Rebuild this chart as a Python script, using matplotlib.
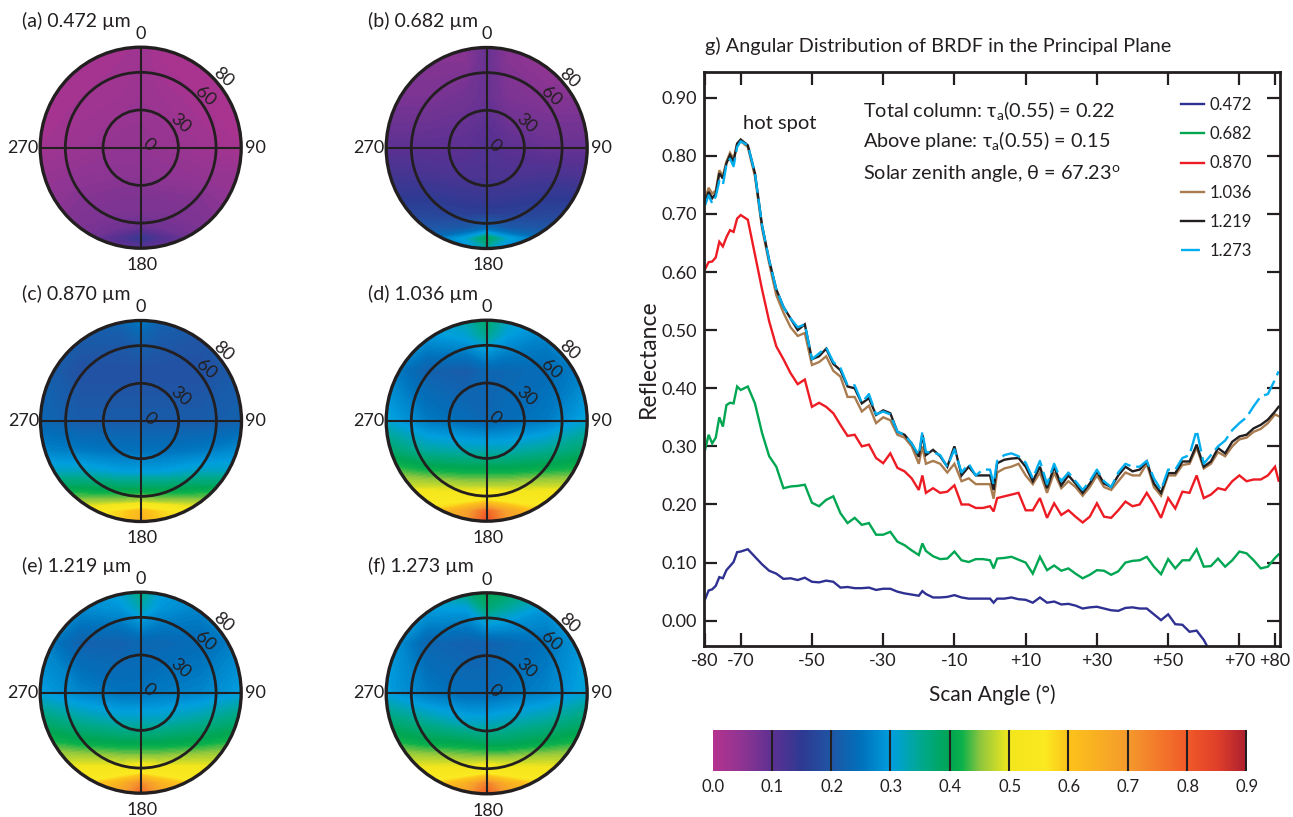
"""BRDF polar panels (a-f), principal plane reflectance (g) and colour scale."""

import matplotlib

matplotlib.use("Agg")
import matplotlib.pyplot as plt
import numpy as np
from matplotlib.colors import LinearSegmentedColormap
from matplotlib.patches import Circle

W, H = 1293, 817
plt.rcParams["font.family"] = ["Lato", "DejaVu Sans"]
plt.rcParams["mathtext.fontset"] = "custom"
plt.rcParams["mathtext.rm"] = "Lato"
plt.rcParams["mathtext.it"] = "Lato"
plt.rcParams["mathtext.bf"] = "Lato:bold"

INK = "#231f20"

# ---- panel g: reflectance against scan angle
ANGLES = [-80, -79, -78, -77, -76, -75, -74, -73, -72, -71, -70, -68, -66, -64, -62,
          -60, -58, -56, -54, -52, -50, -48, -46, -44, -42,
          -40, -38, -36, -34, -32, -30, -28, -26, -24, -22,
          -20, -19, -18, -16, -14, -12, -10, -8, -6, -4, -2,
          0, 1, 2, 4, 6, 8, 10, 12, 14, 16, 18,
          20, 22, 24, 26, 28, 30, 32, 34, 36, 38,
          40, 42, 44, 46, 48, 50, 52, 54, 56, 58,
          60, 62, 64, 66, 68, 70, 72, 74, 76, 78,
          80, 81]

R472 = [.037, .052, .054, .060, .075, .073, .087, .094, .101, .118, .119, .123, .110, .097, .086,
        .081, .072, .073, .070, .074, .067, .066, .069, .067, .057,
        .058, .056, .056, .057, .053, .055, .055, .050, .047, .045,
        .043, .051, .046, .040, .040, .041, .044, .040, .038, .038, .038,
        .038, .031, .038, .038, .040, .037, .036, .031, .040, .031, .033,
        .028, .029, .026, .021, .023, .024, .021, .018, .017, .022,
        .023, .021, .021, .011, .001, .011, -.006, -.007, -.019, -.017,
        -.033, -.056]
R682 = [.294, .320, .305, .315, .350, .334, .371, .375, .374, .403, .397, .403, .374, .323, .283,
        .265, .228, .231, .232, .234, .203, .197, .208, .214, .185,
        .168, .177, .165, .168, .148, .148, .153, .136, .130, .121,
        .113, .133, .120, .111, .106, .107, .119, .104, .101, .106, .106,
        .104, .090, .107, .108, .110, .105, .100, .081, .110, .087, .095,
        .086, .090, .081, .073, .079, .087, .086, .079, .085, .100,
        .103, .104, .110, .093, .080, .106, .090, .104, .104, .123,
        .093, .094, .107, .093, .104, .119, .116, .104, .090, .093,
        .108, .114]
R870 = [.605, .617, .618, .625, .652, .644, .660, .672, .669, .692, .698, .690, .630, .570, .515,
        .472, .450, .426, .407, .415, .368, .375, .368, .357, .337,
        .318, .320, .300, .303, .280, .271, .288, .263, .257, .245,
        .225, .250, .220, .228, .220, .222, .233, .200, .200, .194, .194,
        .197, .188, .211, .214, .217, .220, .190, .190, .211, .177, .202,
        .182, .190, .179, .169, .179, .202, .179, .177, .190, .205,
        .197, .200, .220, .200, .177, .211, .193, .222, .220, .250,
        .211, .217, .228, .225, .240, .250, .240, .243, .243, .250,
        .265, .241]
R1036 = [.725, .745, .735, .740, .775, .765, .790, .805, .795, .820, .825, .815, .765, .675, .615,
         .560, .530, .505, .490, .495, .440, .445, .455, .430, .420,
         .385, .385, .360, .370, .340, .350, .345, .320, .315, .300,
         .270, .300, .270, .275, .270, .255, .270, .240, .245, .235, .235,
         .235, .210, .255, .262, .265, .270, .250, .235, .255, .220, .255,
         .228, .240, .230, .215, .230, .250, .230, .225, .240, .255,
         .250, .250, .270, .230, .215, .250, .250, .268, .270, .298,
         .262, .270, .290, .283, .300, .312, .315, .325, .330, .340,
         .355, .352]
R1219 = [.720, .738, .727, .735, .770, .761, .787, .801, .790, .821, .828, .818, .770, .680, .620,
         .570, .540, .520, .500, .510, .450, .455, .468, .442, .431,
         .403, .400, .374, .383, .354, .362, .357, .325, .320, .305,
         .282, .320, .285, .294, .283, .265, .300, .250, .265, .250, .250,
         .250, .225, .271, .277, .279, .280, .265, .240, .265, .228, .265,
         .233, .250, .236, .220, .236, .257, .236, .230, .250, .265,
         .257, .260, .274, .236, .220, .254, .254, .274, .274, .303,
         .265, .274, .297, .288, .308, .317, .320, .331, .337, .346,
         .360, .368]
R1273 = [.715, .732, .718, .730, .757, .750, .785, .795, .782, .815, .825, .818, .770, .680, .620,
         .570, .540, .520, .505, .510, .450, .460, .470, .445, .435,
         .405, .405, .375, .390, .355, .360, .355, .325, .320, .305,
         .285, .325, .290, .290, .285, .265, .295, .255, .270, .250, .260,
         .260, .235, .275, .285, .288, .283, .272, .245, .275, .235, .270,
         .240, .255, .240, .225, .240, .260, .240, .230, .255, .270,
         .265, .265, .275, .245, .225, .260, .260, .280, .285, .328,
         .270, .285, .300, .310, .328, .340, .350, .369, .386, .390,
         .415, .429]

SERIES = [("0.472", R472, "#2e3192"), ("0.682", R682, "#00a651"),
          ("0.870", R870, "#ed1c24"), ("1.036", R1036, "#a97c50"),
          ("1.219", R1219, "#231f20"), ("1.273", R1273, "#00aeef")]
X_TICKS = [-80, -70, -50, -30, -10, 10, 30, 50, 70, 80]
X_LABELS = ["-80", "-70", "-50", "-30", "-10", "+10", "+30", "+50", "+70", "+80"]
Y_TICKS = [0.0, 0.1, 0.2, 0.3, 0.4, 0.5, 0.6, 0.7, 0.8, 0.9]

# ---- panels a-f: reflectance on a coarse grid (zenith degrees across the disc)
GRID_X = [-80, -48, -16, 0, 16, 48, 80]
GRID_Y = [80, 68, 40, 0, -24, -40, -52, -64, -72, -80]

P_A = [[.02, .02, .02, .03, .02, .02, .02],
       [.02, .02, .025, .03, .02, .02, .02],
       [.02, .025, .03, .035, .03, .02, .02],
       [.025, .035, .045, .045, .04, .03, .02],
       [.04, .05, .055, .055, .05, .045, .04],
       [.045, .06, .065, .065, .065, .06, .045],
       [.05, .065, .07, .07, .07, .065, .05],
       [.05, .07, .08, .09, .08, .07, .05],
       [.05, .07, .11, .14, .11, .07, .05],
       [.05, .06, .09, .10, .09, .06, .05]]
P_B = [[.08, .06, .06, .09, .06, .04, .05],
       [.07, .06, .06, .09, .06, .045, .05],
       [.07, .07, .08, .09, .07, .06, .06],
       [.10, .10, .10, .11, .10, .09, .09],
       [.13, .125, .12, .12, .12, .125, .12],
       [.15, .15, .14, .14, .14, .15, .15],
       [.17, .17, .16, .16, .16, .17, .17],
       [.20, .20, .21, .24, .21, .20, .20],
       [.22, .24, .31, .39, .31, .24, .22],
       [.22, .24, .28, .33, .28, .24, .22]]
P_C = [[.25, .22, .23, .26, .22, .21, .23],
       [.23, .21, .21, .23, .21, .20, .22],
       [.22, .19, .19, .19, .19, .19, .21],
       [.23, .21, .21, .21, .21, .21, .22],
       [.27, .26, .25, .25, .25, .26, .28],
       [.32, .32, .30, .30, .30, .32, .32],
       [.39, .39, .38, .38, .38, .39, .39],
       [.46, .46, .46, .47, .46, .46, .46],
       [.48, .52, .58, .62, .58, .52, .48],
       [.50, .53, .59, .64, .59, .53, .50]]
P_D = [[.34, .30, .33, .38, .32, .29, .30],
       [.32, .29, .31, .35, .30, .27, .29],
       [.27, .22, .21, .23, .23, .24, .27],
       [.31, .26, .24, .23, .24, .26, .31],
       [.38, .34, .33, .33, .33, .35, .38],
       [.44, .42, .41, .41, .41, .42, .43],
       [.48, .48, .47, .47, .47, .48, .48],
       [.53, .54, .55, .58, .55, .54, .53],
       [.55, .58, .68, .78, .68, .58, .55],
       [.56, .60, .70, .82, .70, .60, .56]]
P_E = [[.33, .29, .31, .36, .30, .28, .29],
       [.31, .28, .29, .33, .29, .27, .28],
       [.27, .22, .22, .23, .23, .24, .27],
       [.30, .27, .25, .25, .26, .27, .30],
       [.38, .35, .33, .33, .33, .35, .38],
       [.43, .41, .40, .40, .40, .41, .43],
       [.47, .47, .46, .46, .46, .47, .47],
       [.51, .52, .53, .56, .53, .52, .51],
       [.54, .56, .64, .72, .64, .56, .54],
       [.56, .60, .68, .78, .68, .60, .56]]
P_F = [[.37, .33, .36, .40, .38, .33, .33],
       [.35, .30, .30, .37, .34, .29, .31],
       [.30, .23, .22, .22, .23, .25, .30],
       [.30, .26, .24, .24, .25, .27, .31],
       [.38, .35, .32, .32, .33, .35, .38],
       [.43, .41, .40, .39, .39, .41, .43],
       [.47, .47, .46, .46, .46, .47, .47],
       [.52, .52, .53, .56, .53, .52, .52],
       [.55, .57, .65, .74, .65, .57, .55],
       [.57, .60, .69, .80, .69, .60, .57]]

# label, data, centre x, centre y (px)
PANELS = [("(a) 0.472 µm", P_A, 140.7, 147.7), ("(b) 0.682 µm", P_B, 486.7, 148.0),
          ("(c) 0.870 µm", P_C, 141.0, 421.0), ("(d) 1.036 µm", P_D, 486.7, 420.7),
          ("(e) 1.219 µm", P_E, 140.7, 692.7), ("(f) 1.273 µm", P_F, 486.7, 693.3)]

# colour bar stops
CMAP_VALUES = [0.0, 0.05, 0.1, 0.15, 0.2, 0.25, 0.3, 0.35, 0.4, 0.42, 0.45, 0.48,
               0.5, 0.56, 0.6, 0.7, 0.8, 0.85, 0.9]
CMAP_COLORS = ["#b5338f", "#8e3593", "#5c3192", "#2e3a92", "#1f57a6", "#0072bc",
               "#009fdf", "#00a98f", "#00a651", "#0db14b", "#8dc63f", "#cbdb2a",
               "#f4e61c", "#fbe921", "#fcc31a", "#f59a2d", "#f15a29", "#e0402a",
               "#ad2030"]
CMAP = LinearSegmentedColormap.from_list(
    "brdf", [(v / 0.9, c) for v, c in zip(CMAP_VALUES, CMAP_COLORS)], N=512)
BAR_TICKS = [0.0, 0.1, 0.2, 0.3, 0.4, 0.5, 0.6, 0.7, 0.8, 0.9]


def px_axes(fig, left, top, right, bottom):
    return fig.add_axes([left / W, 1 - bottom / H, (right - left) / W, (bottom - top) / H])


def polar_panel(fig, title, data, cx, cy):
    half = 103.0
    scale = 80 / 100.5  # zenith degrees per pixel
    ax = px_axes(fig, cx - half, cy - half, cx + half, cy + half)
    ax.set_xlim(-half * scale, half * scale)
    ax.set_ylim(-half * scale, half * scale)
    ax.axis("off")
    cs = ax.contourf(GRID_X, GRID_Y, np.array(data), levels=np.linspace(0, 0.9, 181),
                     cmap=CMAP, vmin=0, vmax=0.9, antialiased=False)
    cs.set_clip_path(Circle((0, 0), 80, transform=ax.transData))
    for r, lw in ((30, 2.0), (60, 2.0), (80, 2.4)):
        ax.add_patch(Circle((0, 0), r, fill=False, ec=INK, lw=lw, clip_on=False))
    ax.plot([-80, 80], [0, 0], color=INK, lw=1.5, solid_capstyle="butt")
    ax.plot([0, 0], [-80, 80], color=INK, lw=1.5, solid_capstyle="butt")

    fig.text((cx - 119) / W, 1 - (cy - 127) / H, title, fontsize=14, color=INK,
             ha="left", va="center")
    kw = dict(fontsize=13, color=INK, va="center", ha="center", clip_on=False)
    ax.text(0, 90.5, "0", **kw)
    ax.text(1, -93.5, "180", **kw)
    ax.text(-93.5, 0, "270", **kw)
    ax.text(91, 0, "90", **kw)
    for s, r, a in (("80", 86, 40.5), ("60", 66, 38.6), ("30", 37, 32), ("0", 7, 18)):
        ax.text(r * np.cos(np.radians(a)), r * np.sin(np.radians(a)), s, rotation=-42,
                rotation_mode="anchor", **kw)


def main():
    fig = plt.figure(figsize=(W / 100, H / 100), dpi=100)

    for title, data, cx, cy in PANELS:
        polar_panel(fig, title, data, cx, cy)

    ax = px_axes(fig, 704, 71.5, 1280, 646)
    for name, vals, color in SERIES:
        ls = (0, (8, 2.5)) if name == "1.273" else "-"
        ax.plot(ANGLES[:len(vals)], vals, color=color, lw=1.7, ls=ls, label=name,
                solid_joinstyle="miter")
    ax.set_xlim(-80.3, 81.4)
    ax.set_ylim(-0.0435, 0.945)
    ax.set_xticks(X_TICKS, X_LABELS)
    ax.set_yticks(Y_TICKS, [f"{v:.2f}" for v in Y_TICKS])
    ax.tick_params(direction="in", length=9.5, width=1.6, top=True, right=True, labelsize=13,
                   colors=INK, pad=5)
    for spine in ax.spines.values():
        spine.set_linewidth(2.0)
        spine.set_color(INK)
    ax.set_xlabel("Scan Angle (°)", fontsize=15, color=INK, labelpad=11)
    ax.set_ylabel("Reflectance", fontsize=16.5, color=INK, labelpad=2)
    fig.text(705 / W, 1 - 46 / H, "g) Angular Distribution of BRDF in the Principal Plane",
             fontsize=14.3, color=INK, ha="left", va="center")
    ax.legend(loc="upper right", bbox_to_anchor=(1252 / W, 1 - 97 / H),
              bbox_transform=fig.transFigure, frameon=False, fontsize=12, labelspacing=0.79,
              handlelength=1.38, handletextpad=0.36, borderaxespad=0, borderpad=0,
              labelcolor=INK)

    note = dict(fontsize=14.3, color=INK, ha="left", va="center")
    fig.text(863 / W, 1 - 111 / H, r"Total column: $\tau_{\mathrm{a}}$(0.55) = 0.22", **note)
    fig.text(863 / W, 1 - 141 / H, r"Above plane: $\tau_{\mathrm{a}}$(0.55) = 0.15", **note)
    fig.text(863 / W, 1 - 173 / H, r"Solar zenith angle, $\theta$ = 67.23$^{\mathrm{o}}$", **note)
    fig.text(780 / W, 1 - 123 / H, "hot spot", fontsize=14.5, color=INK, ha="center", va="center")

    cb = px_axes(fig, 713, 730, 1247, 771)
    cb.imshow(np.linspace(0, 0.9, 512)[None, :], aspect="auto", cmap=CMAP, vmin=0, vmax=0.9,
              extent=[0, 0.9, 0, 1])
    cb.set_xlim(0, 0.9)
    cb.set_yticks([])
    cb.set_xticks(BAR_TICKS, [f"{v:.1f}" for v in BAR_TICKS])
    cb.tick_params(axis="x", length=0, labelsize=12, colors=INK, pad=6)
    for v in BAR_TICKS[1:]:
        cb.axvline(v - 0.001, color=INK, lw=1.5)
    for spine in cb.spines.values():
        spine.set_visible(False)

    fig.savefig("out.png", dpi=100)


if __name__ == "__main__":
    main()
